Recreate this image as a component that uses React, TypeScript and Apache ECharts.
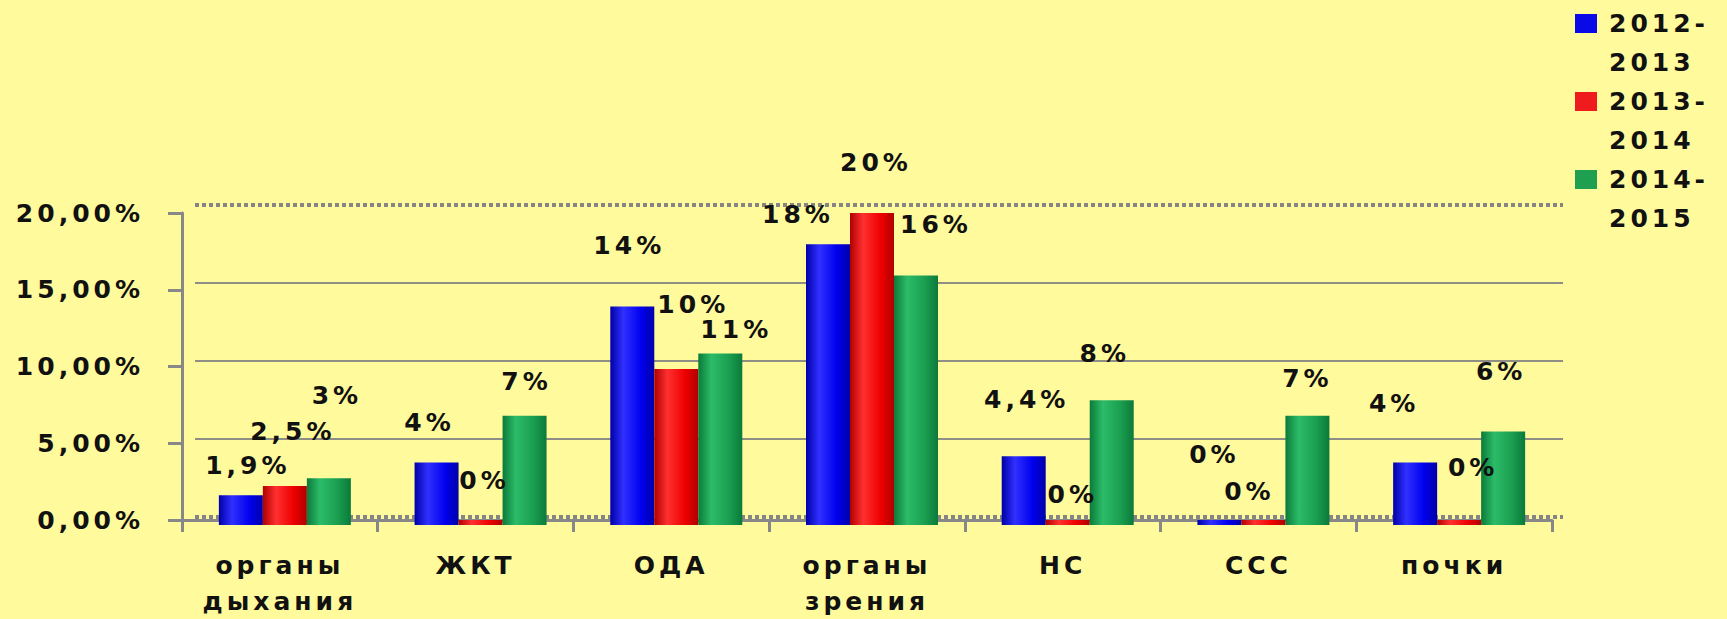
import { useEffect, useRef } from "react";
import * as echarts from "echarts";

const categories = ["органы\nдыхания", "ЖКТ", "ОДА", "органы\nзрения", "НС", "ССС", "почки"];
const seriesNames = ["2012-2013", "2013-2014", "2014-2015"];
const values2012 = [1.9, 4, 14, 18, 4.4, 0, 4];
const values2013 = [2.5, 0, 10, 20, 0, 0, 0];
const values2014 = [3, 7, 11, 16, 8, 7, 6];
const yMin = 0;
const yMax = 20;
const yStep = 5;

// label nudges (pixels) for the Excel-style scattered data labels
const labelOffsets2012 = [[7, -12], [-7, -22], [-3, -43], [-30, -12], [3, -39], [-5, -48], [-21, -41]];
const labelOffsets2013 = [[8, -37], [4, -22], [17, -47], [4, -33], [5, -8], [-14, -11], [14, -35]];
const labelOffsets2014 = [[8, -65], [2, -16], [16, -6], [20, -33], [-7, -29], [0, -19], [-2, -42]];

const FONT = "DejaVu Sans";
const BG = "#FFFA9C";

const fmtPct = (v: number) => (Number.isInteger(v) ? `${v}%` : `${String(v).replace(".", ",")}%`);

const grad = (dark: string, bright: string, base: string) =>
  new echarts.graphic.LinearGradient(0, 0, 1, 0, [
    { offset: 0, color: dark },
    { offset: 0.3, color: bright },
    { offset: 0.7, color: base },
    { offset: 1, color: dark },
  ]);

export default function App() {
  const ref = useRef<HTMLDivElement>(null);

  useEffect(() => {
    if (!ref.current) return;
    const chart = echarts.init(ref.current, undefined, { renderer: "svg" });

    const styles = [
      { fill: grad("#0000a8", "#3030ff", "#0000ee"), flat: "#0a0ae8" },
      { fill: grad("#b00000", "#ff3030", "#ee0000"), flat: "#ee1c1c" },
      { fill: grad("#0b7a3a", "#2cbc68", "#1a9e50"), flat: "#1ea050" },
    ];
    const allValues = [values2012, values2013, values2014];
    const allOffsets = [labelOffsets2012, labelOffsets2013, labelOffsets2014];

    const textBase = { fontFamily: FONT, fontSize: 25, fontWeight: "bold" as const, color: "#111" };

    const option: any = {
      animation: false,
      backgroundColor: BG,
      legend: {
        orient: "vertical",
        left: 1575,
        top: 4,
        padding: 0,
        itemGap: 0,
        itemWidth: 29,
        itemHeight: 78,
        icon: "path://M0,0M0,10L22,10L22,29L0,29ZM29,78",
        formatter: (name: string) => name.replace("-", "-\n"),
        textStyle: { ...textBase, lineHeight: 39 },
        data: seriesNames.map((n, i) => ({ name: n, itemStyle: { color: styles[i].flat } })),
      },
      grid: [
        { left: 182, right: 175, top: 213, bottom: 94 },
        { left: 187, right: 170, top: 213, bottom: 94 },
        { left: 195, right: 164, top: 205, bottom: 102 },
      ],
      xAxis: [
        {
          type: "category",
          gridIndex: 0,
          data: categories,
          axisLine: { lineStyle: { color: "#888888", width: 3 } },
          axisTick: { show: true, length: 12, lineStyle: { color: "#888888", width: 3 } },
          axisLabel: { ...textBase, interval: 0, lineHeight: 36, margin: 27 },
          splitLine: { show: false },
        },
        { type: "category", gridIndex: 1, data: categories, show: false },
        { type: "category", gridIndex: 2, data: categories, show: false },
      ],
      yAxis: [
        {
          type: "value",
          gridIndex: 0,
          min: yMin,
          max: yMax,
          interval: yStep,
          axisLine: { show: true, lineStyle: { color: "#888888", width: 3 } },
          axisTick: { show: true, length: 14, lineStyle: { color: "#888888", width: 3 } },
          axisLabel: { ...textBase, margin: 38, formatter: (v: number) => `${v.toFixed(2).replace(".", ",")}%` },
          splitLine: { show: false },
        },
        { type: "value", gridIndex: 1, min: yMin, max: yMax, interval: yStep, show: false, splitLine: { show: false } },
        {
          type: "value",
          gridIndex: 2,
          min: yMin,
          max: yMax,
          interval: yStep,
          axisLine: { show: false },
          axisTick: { show: false },
          axisLabel: { show: false },
          splitLine: { show: true, showMinLine: false, showMaxLine: false, lineStyle: { color: "#8e8e84", width: 2 } },
        },
        {
          type: "value",
          gridIndex: 2,
          min: yMin,
          max: yMax,
          interval: yMax - yMin,
          axisLine: { show: false },
          axisTick: { show: false },
          axisLabel: { show: false },
          splitLine: { show: true, lineStyle: { color: "#858585", width: 4, type: [4, 3] } },
        },
      ],
      series: seriesNames.map((name, s) => ({
        type: "bar",
        name,
        xAxisIndex: 1,
        yAxisIndex: 1,
        barWidth: 44,
        barGap: "0%",
        barMinHeight: 5,
        itemStyle: { color: styles[s].fill },
        label: {
          show: true,
          position: "top",
          distance: 5,
          ...textBase,
          lineHeight: 26,
          formatter: (p: any) => fmtPct(p.value),
        },
        data: allValues[s].map((v, i) => ({ value: v, label: { offset: allOffsets[s][i] } })),
      })),
    };

    chart.setOption(option);
    return () => chart.dispose();
  }, []);

  return (
    <>
      <style>{`html,body{margin:0;padding:0;background:${BG};} #chart-root svg text{letter-spacing:4px;}`}</style>
      <div
        id="chart-root"
        ref={ref}
        style={{ position: "fixed", left: 0, top: 0, width: 1727, height: 619, background: BG }}
      />
    </>
  );
}
